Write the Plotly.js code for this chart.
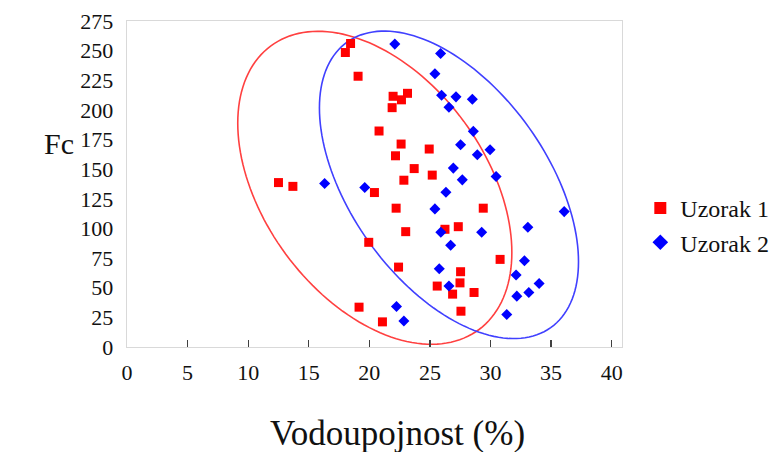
<!DOCTYPE html>
<html>
<head>
<meta charset="utf-8">
<script src="https://cdn.plot.ly/plotly-3.0.1.min.js"></script>
<style>html,body{margin:0;padding:0;background:#fff;}#chart{width:774px;height:452px;}</style>
</head>
<body>
<div id="chart"></div>
<script>
// Series names
const seriesNames = ["Uzorak 1", "Uzorak 2"];

// Uzorak 1 (red squares)
const redX = [18.45,18.02,19.07,21.96,23.15,22.65,21.88,20.8,22.62,22.16,23.7,22.85,12.5,13.69,20.42,22.21,23.0,19.95,22.41,19.15,21.08,24.94,25.19,29.4,27.34,26.24,30.79,27.53,27.48,25.6,26.87,28.64,27.56];
const redY = [256,248.4,228.4,211.5,214,208.5,201.9,182.2,171.2,161.3,150.5,140.7,138.7,135.5,130.3,117.1,97.3,88.3,67.4,33.6,21.2,167.0,145.0,117.1,101.5,99.3,73.9,63.5,54.1,51.4,44.6,46.0,30.2];

// Uzorak 2 (blue diamonds)
const blueX = [22.1,25.88,25.41,25.96,27.15,28.5,26.57,28.58,27.53,29.96,28.91,26.93,30.46,27.67,16.31,19.62,26.32,25.41,25.9,29.27,26.71,33.08,36.08,32.8,25.77,32.11,34.01,26.57,33.16,32.17,31.34,22.24,22.85];
const blueY = [255.5,247.6,230.5,212.4,211.0,209.0,202.2,181.9,170.6,166.4,162.2,150.9,143.8,141.0,138,134.5,130.6,116.5,96.8,96.8,85.8,101.0,114.2,72.8,66.0,60.7,53.6,51.4,46.0,42.9,27.4,34.2,22.0];

// Ellipse outlines (center x, center y, half-width x, half-height y, correlation)
const redEllipse = [20.45, 134.3, 11.31, 132.0, -0.413];
const blueEllipse = [26.57, 136.8, 10.69, 129.7, -0.50];

// Axis ticks
const xTicks = [0,5,10,15,20,25,30,35,40];
const yTicks = [0,25,50,75,100,125,150,175,200,225,250,275];

function ellipsePath(p) {
  const [cx, cy, rx, ry, rho] = p;
  const n = 160;
  const k = Math.sqrt(1 - rho * rho);
  let d = "";
  for (let i = 0; i <= n; i++) {
    const t = 2 * Math.PI * i / n;
    const x = cx + rx * Math.cos(t);
    const y = cy + ry * (rho * Math.cos(t) + k * Math.sin(t));
    d += (i === 0 ? "M" : "L") + x.toFixed(4) + "," + y.toFixed(4);
  }
  return d + "Z";
}

const serif = "Liberation Serif";
const ink = "#111111";

const traces = [
  {
    x: redX, y: redY, name: seriesNames[0], type: "scatter", mode: "markers",
    marker: { symbol: "square", size: 9, color: "#ff0000" }
  },
  {
    x: blueX, y: blueY, name: seriesNames[1], type: "scatter", mode: "markers",
    marker: { symbol: "diamond", size: 8.5, color: "#0000ff" }
  }
];

const layout = {
  width: 774, height: 452,
  font: { family: serif, color: ink },
  margin: { l: 127, r: 152, t: 21, b: 105, autoexpand: false },
  paper_bgcolor: "#ffffff", plot_bgcolor: "#ffffff",
  showlegend: true,
  legend: {
    x: 1.037, xanchor: "left", y: 0.373, yanchor: "middle",
    font: { family: serif, size: 24, color: ink },
    bgcolor: "rgba(0,0,0,0)", itemsizing: "constant", tracegroupgap: 0
  },
  xaxis: {
    range: [0, 40.85], tickmode: "array", tickvals: xTicks, ticktext: xTicks.map(String),
    showgrid: false, zeroline: false,
    showline: true, mirror: true, linecolor: "#d9d9d9", linewidth: 1.3,
    ticks: "inside", ticklen: 7, tickcolor: "#404040", tickwidth: 1.3,
    ticklabelstandoff: 5,
    tickfont: { family: serif, size: 22, color: ink },
    fixedrange: true
  },
  yaxis: {
    range: [0, 275], tickmode: "array", tickvals: yTicks, ticktext: yTicks.map(String),
    showgrid: false, zeroline: false,
    showline: true, mirror: true, linecolor: "#d9d9d9", linewidth: 1.3,
    ticks: "", ticklabelstandoff: 8,
    tickfont: { family: serif, size: 22, color: ink },
    fixedrange: true
  },
  shapes: [
    { type: "path", xref: "x", yref: "y", path: ellipsePath(redEllipse), layer: "below",
      line: { color: "rgb(255,64,64)", width: 1.6 }, fillcolor: "rgba(0,0,0,0)" },
    { type: "path", xref: "x", yref: "y", path: ellipsePath(blueEllipse), layer: "below",
      line: { color: "rgb(64,64,255)", width: 1.6 }, fillcolor: "rgba(0,0,0,0)" }
  ],
  annotations: [
    { text: "Vodoupojnost (%)", xref: "paper", yref: "paper",
      x: (397 - 127) / 495, y: (347 - 433) / 326, xanchor: "center", yanchor: "middle",
      showarrow: false, font: { family: serif, size: 35, color: ink } },
    { text: "Fc", xref: "paper", yref: "paper",
      x: (59 - 127) / 495, y: (347 - 143) / 326, xanchor: "center", yanchor: "middle",
      showarrow: false, font: { family: serif, size: 30, color: ink } }
  ]
};

Plotly.newPlot("chart", traces, layout, { displayModeBar: false, staticPlot: true });
</script>
</body>
</html>
